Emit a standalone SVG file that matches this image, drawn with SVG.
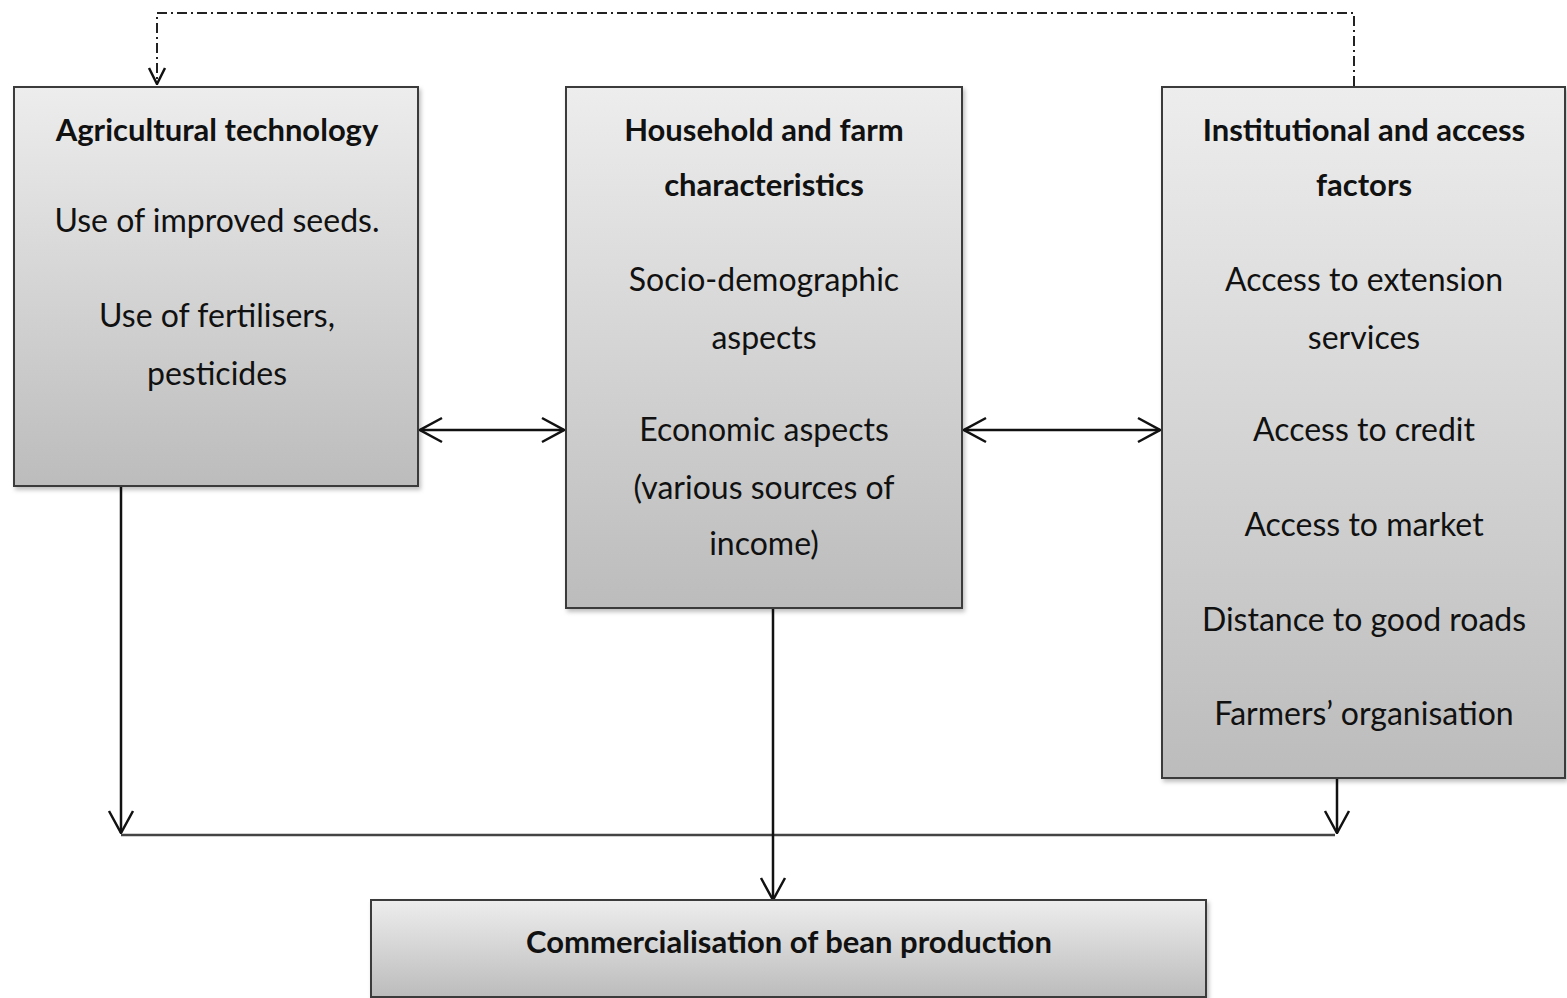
<svg xmlns="http://www.w3.org/2000/svg" width="1567" height="998" viewBox="0 0 1567 998">
<defs>
<linearGradient id="g" x1="0" y1="0" x2="0" y2="1">
<stop offset="0" stop-color="#ededed"/>
<stop offset="1" stop-color="#bcbcbc"/>
</linearGradient>
<filter id="sh" x="-5%" y="-5%" width="110%" height="110%">
<feDropShadow dx="2" dy="3" stdDeviation="2" flood-color="#000" flood-opacity="0.25"/>
</filter>
<marker id="ah" viewBox="0 0 20 20" refX="19" refY="10" markerWidth="20" markerHeight="20" markerUnits="userSpaceOnUse" orient="auto-start-reverse">
<path d="M3,2 L19,10 L3,18" fill="none" stroke="#111" stroke-width="2.5"/>
</marker>
<marker id="ah2" viewBox="0 0 26 30" refX="25" refY="15" markerWidth="26" markerHeight="30" markerUnits="userSpaceOnUse" orient="auto-start-reverse">
<path d="M3,3 L25,15 L3,27" fill="none" stroke="#111" stroke-width="2.5"/>
</marker>
</defs>
<style>
.box{fill:url(#g);stroke:#3a3a3a;stroke-width:2;filter:url(#sh)}
text{font-family:"Lato","Liberation Sans",sans-serif;font-size:32px;fill:#111;text-anchor:middle}
.t{font-weight:bold;font-size:31px}
.c{fill:none;stroke:#111;stroke-width:2.5}
.h{fill:none;stroke:#444;stroke-width:2.5}
.d{fill:none;stroke:#222;stroke-width:2;stroke-dasharray:10,4,2,4}
</style>
<rect width="1567" height="998" fill="#fff"/>
<g id="connectors">
<path class="d" d="M1354,86 V13 H157 V84" marker-end="url(#ah)"/>
<line class="c" x1="420" y1="430" x2="564" y2="430" marker-start="url(#ah2)" marker-end="url(#ah2)"/>
<line class="c" x1="964" y1="430" x2="1160" y2="430" marker-start="url(#ah2)" marker-end="url(#ah2)"/>
<line class="c" x1="121" y1="487" x2="121" y2="833" marker-end="url(#ah2)"/>
<line class="c" x1="1337" y1="779" x2="1337" y2="833" marker-end="url(#ah2)"/>
<line class="h" x1="121" y1="835" x2="1335" y2="835"/>
<line class="c" x1="773" y1="609" x2="773" y2="900" marker-end="url(#ah2)"/>
</g>
<g id="n1">
<rect class="box" x="14" y="87" width="404" height="399"/>
<text class="t" x="217" y="141">Agricultural technology</text>
<text x="217" y="232">Use of improved seeds.</text>
<text x="217" y="327">Use of fertilisers,</text>
<text x="217" y="385">pesticides</text>
</g>
<g id="n2">
<rect class="box" x="566" y="87" width="396" height="521"/>
<text class="t" x="764" y="141">Household and farm</text>
<text class="t" x="764" y="196">characteristics</text>
<text x="764" y="291">Socio-demographic</text>
<text x="764" y="349">aspects</text>
<text x="764" y="441">Economic aspects</text>
<text x="764" y="499">(various sources of</text>
<text x="764" y="555">income)</text>
</g>
<g id="n3">
<rect class="box" x="1162" y="87" width="403" height="691"/>
<text class="t" x="1364" y="141">Institutional and access</text>
<text class="t" x="1364" y="196">factors</text>
<text x="1364" y="291">Access to extension</text>
<text x="1364" y="349">services</text>
<text x="1364" y="441">Access to credit</text>
<text x="1364" y="536">Access to market</text>
<text x="1364" y="631">Distance to good roads</text>
<text x="1364" y="725">Farmers’ organisation</text>
</g>
<g id="n4">
<rect class="box" x="371" y="900" width="835" height="97"/>
<text class="t" x="789" y="953">Commercialisation of bean production</text>
</g>
</svg>
